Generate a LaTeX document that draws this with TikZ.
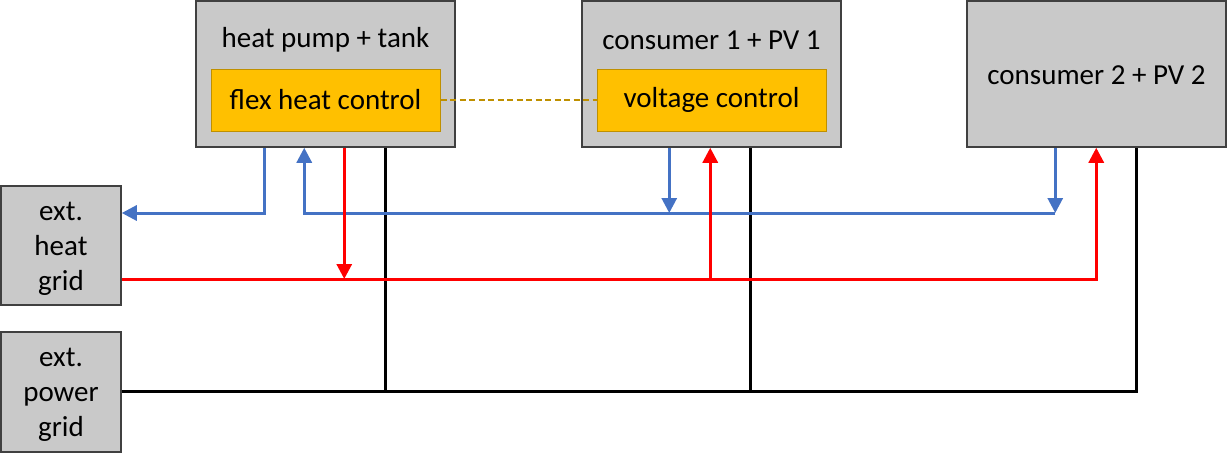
\documentclass[tikz,border=0pt]{standalone}
\usepackage{fontspec}
\setmainfont{Carlito}
\usetikzlibrary{arrows.meta}
\definecolor{boxgray}{HTML}{C9C9C9}
\definecolor{boxline}{HTML}{404040}
\definecolor{ctrlfill}{HTML}{FFC000}
\definecolor{ctrlline}{HTML}{BF9000}
\definecolor{heatblue}{HTML}{4472C4}
\definecolor{heatred}{HTML}{FF0000}
\begin{document}
\begin{tikzpicture}[x=1pt,y=-1pt,
  unit/.style={draw=boxline,fill=boxgray,line width=1.5pt,inner sep=0pt,minimum width=259pt,minimum height=146pt},
  grid/.style={draw=boxline,fill=boxgray,line width=1.5pt,inner sep=0pt,minimum width=120pt,minimum height=119pt},
  gridtext/.style={inner sep=0pt,align=center,font=\fontsize{29}{35}\selectfont},
  ctrl/.style={draw=ctrlline,fill=ctrlfill,line width=1pt,inner sep=0pt,minimum width=229pt,minimum height=62pt,font=\fontsize{29}{34}\selectfont},
  lbl/.style={inner sep=0pt,font=\fontsize{29}{34}\selectfont},
  tip/.style={-{Triangle[width=15pt,length=15pt]}},
  bl/.style={draw=heatblue,line width=3pt},
  rd/.style={draw=heatred,line width=3pt},
  pw/.style={draw=black,line width=3pt},
  link/.style={draw=ctrlline,line width=2.5pt,dash pattern=on 6pt off 3.5pt}]
\useasboundingbox (0,0) rectangle (1227,453);
% units
\node[unit] (hp) at (325.5,74) {};
\node[lbl] (hpT) at (325.5,40) {heat pump + tank};
\node[ctrl] (flex) at (325.5,100) {flex heat control};
\node[unit] (c1) at (711.5,74) {};
\node[lbl] (c1T) at (711.5,40) {consumer 1 + PV 1};
\node[ctrl] (volt) at (711.5,100) {voltage control};
\node[unit] (c2) at (1096.5,74) {};
\node[lbl] (c2T) at (1096.5,75) {consumer 2 + PV 2};
\node[grid] (ehg) at (61,245.5) {};
\node[gridtext] (ehgT) at (61,249) {ext.\\heat\\grid};
\node[grid,minimum height=120pt] (epg) at (61,392) {};
\node[gridtext] (epgT) at (61,395) {ext.\\power\\grid};
% levels
\coordinate (bY) at (0,213);
\coordinate (rY) at (0,279);
\coordinate (kY) at (0,391);
% ports
\coordinate (hpBo) at ([xshift=69pt]hp.south west);
\coordinate (hpBi) at ([xshift=109pt]hp.south west);
\coordinate (hpR) at ([xshift=149pt]hp.south west);
\coordinate (hpK) at ([xshift=190pt]hp.south west);
\coordinate (c1B) at ([xshift=88pt]c1.south west);
\coordinate (c1R) at ([xshift=129pt]c1.south west);
\coordinate (c1K) at ([xshift=169pt]c1.south west);
\coordinate (c2B) at ([xshift=89pt]c2.south west);
\coordinate (c2R) at ([xshift=130pt]c2.south west);
\coordinate (c2K) at ([xshift=170pt]c2.south west);
% control link
\draw[link] (flex.east) -- (volt.west);
% power lines
\draw[pw] (epg.east |- kY) -| (c2K);
\draw[pw] (hpK) -- (hpK |- kY);
\draw[pw] (c1K) -- (c1K |- kY);
% heat (blue)
\draw[bl,tip] (hpBo) |- (ehg.east |- bY);
\draw[bl,tip] (c2B) -- (c2B |- bY);
\draw[bl,tip] (c2B |- bY) -| (hpBi);
\draw[bl,tip] (c1B) -- (c1B |- bY);
% heat (red)
\draw[rd,tip] (ehg.east |- rY) -| (c2R);
\draw[rd,tip] (hpR) -- (hpR |- rY);
\draw[rd,tip] (c1R |- rY) -- (c1R);
\end{tikzpicture}
\end{document}
